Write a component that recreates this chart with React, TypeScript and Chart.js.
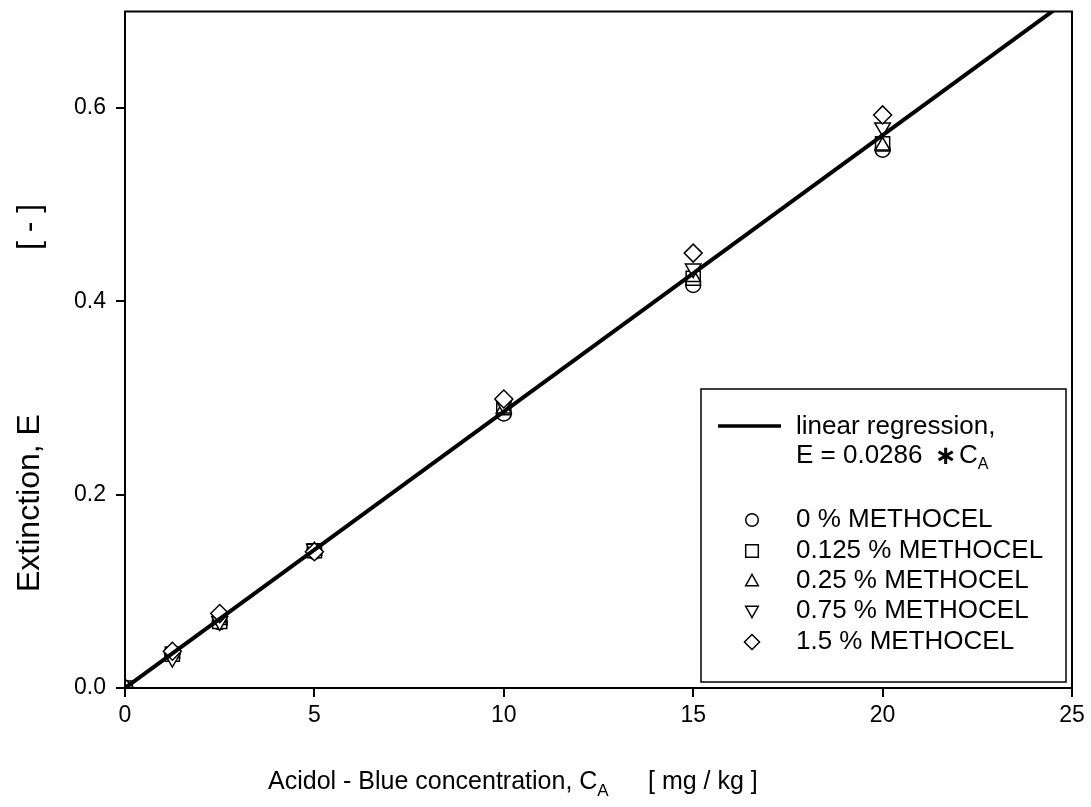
import React, { useEffect, useRef } from 'react';
import { Chart, registerables } from 'chart.js';

Chart.register(...registerables);

// ---- data ----
const concentrations = [0, 1.25, 2.5, 5, 10, 15, 20];
const methocel0 = [0, 0.035, 0.068, 0.141, 0.284, 0.417, 0.557];
const methocel0125 = [0, 0.035, 0.069, 0.142, 0.290, 0.424, 0.563];
const methocel025 = [0, 0.036, 0.070, 0.142, 0.289, 0.425, 0.561];
const methocel075 = [0, 0.031, 0.069, 0.144, 0.293, 0.434, 0.580];
const methocel15 = [0, 0.038, 0.077, 0.141, 0.299, 0.450, 0.593];

// regression line E = 0.0286 * C (end points)
const regressionX = [0, 25];
const regressionY = [0, 0.715];

const xTicks = [0, 5, 10, 15, 20, 25];
const yTicks = [0, 0.2, 0.4, 0.6];

const seriesLabels = [
  '0 % METHOCEL',
  '0.125 % METHOCEL',
  '0.25 % METHOCEL',
  '0.75 % METHOCEL',
  '1.5 % METHOCEL',
];

const FONT = '"Liberation Sans", Arial, sans-serif';

function pts(xs: number[], ys: number[]) {
  return xs.map((x, i) => ({ x, y: ys[i] }));
}

function drawMarker(ctx: CanvasRenderingContext2D, kind: string, x: number, y: number, r: number) {
  ctx.beginPath();
  if (kind === 'circle') {
    ctx.arc(x, y, r, 0, Math.PI * 2);
  } else if (kind === 'square') {
    ctx.rect(x - r, y - r, 2 * r, 2 * r);
  } else if (kind === 'up') {
    ctx.moveTo(x, y - r * 1.05);
    ctx.lineTo(x + r, y + r * 0.75);
    ctx.lineTo(x - r, y + r * 0.75);
    ctx.closePath();
  } else if (kind === 'down') {
    ctx.moveTo(x, y + r * 1.05);
    ctx.lineTo(x + r, y - r * 0.75);
    ctx.lineTo(x - r, y - r * 0.75);
    ctx.closePath();
  } else {
    ctx.moveTo(x, y - r * 1.2);
    ctx.lineTo(x + r * 1.2, y);
    ctx.lineTo(x, y + r * 1.2);
    ctx.lineTo(x - r * 1.2, y);
    ctx.closePath();
  }
  ctx.fillStyle = '#fff';
  ctx.fill();
  ctx.lineWidth = 1.5;
  ctx.strokeStyle = '#000';
  ctx.stroke();
}

const decorPlugin = {
  id: 'decor',
  afterDraw(chart: any) {
    const ctx: CanvasRenderingContext2D = chart.ctx;
    const a = chart.chartArea;
    ctx.save();
    // frame
    ctx.strokeStyle = '#000';
    ctx.lineWidth = 2;
    ctx.strokeRect(a.left, a.top, a.right - a.left, a.bottom - a.top);

    ctx.fillStyle = '#000';
    ctx.textBaseline = 'alphabetic';
    ctx.textAlign = 'left';

    // x axis title
    ctx.font = `25px ${FONT}`;
    const xt = 'Acidol - Blue concentration, C';
    const x0 = 268;
    ctx.fillText(xt, x0, 789);
    const w1 = ctx.measureText(xt).width;
    ctx.font = `17px ${FONT}`;
    ctx.fillText('A', x0 + w1, 796);
    ctx.font = `25px ${FONT}`;
    ctx.fillText('[ mg / kg ]', 648, 789);

    // y axis title (rotated)
    ctx.save();
    ctx.translate(39, 0);
    ctx.rotate(-Math.PI / 2);
    ctx.font = `32px ${FONT}`;
    ctx.fillText('Extinction, E', -592, 0);
    ctx.fillText('[ - ]', -250, 0);
    ctx.restore();

    // legend box
    const lx = 701, ly = 389, lw = 365, lh = 293;
    ctx.fillStyle = '#fff';
    ctx.fillRect(lx, ly, lw, lh);
    ctx.lineWidth = 1.5;
    ctx.strokeStyle = '#000';
    ctx.strokeRect(lx, ly, lw, lh);

    ctx.fillStyle = '#000';
    ctx.lineWidth = 3.5;
    ctx.beginPath();
    ctx.moveTo(718, 426);
    ctx.lineTo(781, 426);
    ctx.stroke();

    ctx.font = `26px ${FONT}`;
    ctx.textBaseline = 'middle';
    ctx.fillText('linear regression,', 796, 427);
    const e1 = 'E = 0.0286';
    ctx.fillText(e1, 796, 456);
    ctx.font = `bold 26px "DejaVu Sans", ${FONT}`;
    ctx.textAlign = 'center';
    ctx.fillText('\u2217', 946, 457);
    ctx.textAlign = 'left';
    ctx.font = `26px ${FONT}`;
    ctx.fillText('C', 959, 456);
    const cw = ctx.measureText('C').width;
    ctx.font = `16px ${FONT}`;
    ctx.fillText('A', 959 + cw, 465);

    const kinds = ['circle', 'square', 'up', 'down', 'diamond'];
    const rows = [520, 551, 581, 611, 642];
    ctx.font = `26px ${FONT}`;
    kinds.forEach((k, i) => {
      drawMarker(ctx, k, 752, rows[i], 6.3);
      ctx.fillStyle = '#000';
      ctx.fillText(seriesLabels[i], 796, rows[i]);
    });
    ctx.restore();
  },
};

export default function App() {
  const ref = useRef<HTMLCanvasElement>(null);

  useEffect(() => {
    if (!ref.current) return;
    const markerBase = {
      type: 'scatter' as const,
      showLine: false,
      borderColor: '#000',
      backgroundColor: '#fff',
      borderWidth: 1.5,
      pointHoverRadius: 8,
    };
    const chart = new Chart(ref.current, {
      type: 'scatter',
      data: {
        datasets: [
          {
            type: 'line',
            label: 'linear regression',
            data: pts(regressionX, regressionY),
            borderColor: '#000',
            borderWidth: 4,
            pointRadius: 0,
            fill: false,
          } as any,
          { ...markerBase, label: seriesLabels[4], data: pts(concentrations, methocel15), pointStyle: 'rectRot', pointRadius: 9 },
          { ...markerBase, label: seriesLabels[3], data: pts(concentrations, methocel075), pointStyle: 'triangle', rotation: 180, pointRadius: 9 },
          { ...markerBase, label: seriesLabels[2], data: pts(concentrations, methocel025), pointStyle: 'triangle', pointRadius: 8.5 },
          { ...markerBase, label: seriesLabels[1], data: pts(concentrations, methocel0125), pointStyle: 'rect', pointRadius: 10 },
          { ...markerBase, label: seriesLabels[0], data: pts(concentrations, methocel0), pointStyle: 'circle', pointRadius: 7.5 },
        ],
      },
      options: {
        responsive: false,
        animation: false,
        layout: { padding: { left: 0, right: 19, top: 8, bottom: 0 } },
        plugins: { legend: { display: false }, tooltip: { enabled: false } },
        scales: {
          x: {
            type: 'linear',
            min: 0,
            max: 25,
            afterBuildTicks: (s: any) => { s.ticks = xTicks.map((v) => ({ value: v })); },
            afterFit: (s: any) => { s.height = 119; s.paddingLeft = 0; s.paddingRight = 0; },
            ticks: { color: '#000', font: { family: FONT, size: 23 }, padding: 5, maxRotation: 0 },
            grid: { drawOnChartArea: false, drawTicks: true, tickLength: 9, color: '#000', lineWidth: 2 },
            border: { display: true, color: '#000', width: 2 },
          },
          y: {
            type: 'linear',
            min: 0,
            max: 0.7,
            afterBuildTicks: (s: any) => { s.ticks = yTicks.map((v) => ({ value: v })); },
            afterFit: (s: any) => { s.width = 125; s.paddingTop = 0; s.paddingBottom = 0; },
            ticks: { color: '#000', font: { family: FONT, size: 23 }, padding: 10, callback: (v: any) => Number(v).toFixed(1) },
            grid: { drawOnChartArea: false, drawTicks: true, tickLength: 9, color: '#000', lineWidth: 2 },
            border: { display: true, color: '#000', width: 2 },
          },
        },
      },
      plugins: [decorPlugin],
    });
    return () => chart.destroy();
  }, []);

  return (
    <div style={{ position: 'fixed', left: 0, top: 0, width: 1091, height: 807, background: '#fff' }}>
      <canvas ref={ref} width={1091} height={807} style={{ display: 'block' }} />
    </div>
  );
}
